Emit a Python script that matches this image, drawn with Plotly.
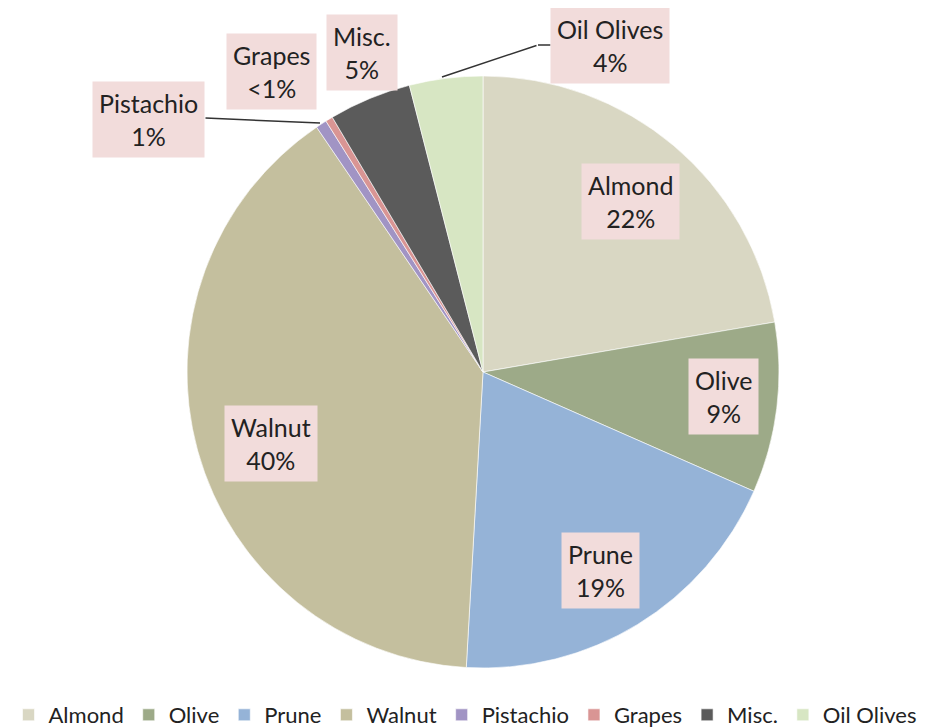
import plotly.graph_objects as go

# The page body has an 8px default margin, so the figure is drawn 8px in
# from the window's top-left corner; positions below are window pixels.
OFF = 8
W, H = 920, 720

categories = ["Almond", "Olive", "Prune", "Walnut", "Pistachio", "Grapes", "Misc.", "Oil Olives"]
values = [22.3, 9.3, 19.3, 39.6, 0.6, 0.4, 4.5, 4.0]
pct_labels = ["22%", "9%", "19%", "40%", "1%", "<1%", "5%", "4%"]
colors = ["#d9d7c3", "#9daa88", "#95b3d7", "#c4bf9e", "#a194c4", "#d99594", "#5b5b5b", "#d7e6c3"]

# label box centers (window pixels)
label_pos = {
    "Almond": (630, 202), "Olive": (723, 396), "Prune": (600, 570), "Walnut": (271, 443),
    "Pistachio": (148, 119), "Grapes": (271, 71), "Misc.": (362, 52), "Oil Olives": (610, 45),
}
# leader lines: list of points from box edge to pie edge
leaders = {
    "Pistachio": [(204, 118), (320, 123)],
    "Oil Olives": [(552, 45), (538, 45), (442, 77)],
}

cx, cy, r = 483, 372, 296

def px(x):
    return (x - OFF) / W

def py(y):
    return 1 - (y - OFF) / H

fig = go.Figure(go.Pie(
    labels=categories, values=values, sort=False, direction="clockwise", rotation=0,
    marker=dict(colors=colors, line=dict(color="rgba(255,255,255,0.6)", width=1)),
    textinfo="none", hoverinfo="label+percent",
    domain=dict(x=[px(cx - r), px(cx + r)], y=[py(cy + r), py(cy - r)]),
))

annotations = []
for name, pts in leaders.items():
    for (sx, sy), (ex, ey) in zip(pts[:-1], pts[1:]):
        annotations.append(dict(x=px(ex), y=py(ey), xref="paper", yref="paper",
                                ax=sx - ex, ay=sy - ey, axref="pixel", ayref="pixel",
                                showarrow=True, arrowhead=0, arrowwidth=1.5,
                                arrowcolor="#333", text=""))
for name, pct in zip(categories, pct_labels):
    x, y = label_pos[name]
    annotations.append(dict(x=px(x), y=py(y), xref="paper", yref="paper",
                            xanchor="center", yanchor="middle",
                            text=f"{name}<br>{pct}", showarrow=False,
                            font=dict(family="Lato", size=25, color="#222"),
                            bgcolor="#f2dcdb", borderpad=6, align="center"))

fig.update_layout(
    width=W, height=H, margin=dict(l=0, r=0, t=0, b=0, autoexpand=False),
    paper_bgcolor="white", plot_bgcolor="white",
    annotations=annotations,
    showlegend=True,
    legend=dict(orientation="h", x=px(465), xanchor="center", y=py(715), yanchor="middle",
                font=dict(family="Lato", size=22, color="#222"),
                itemwidth=30, tracegroupgap=0),
)

fig.write_html("out.html")
